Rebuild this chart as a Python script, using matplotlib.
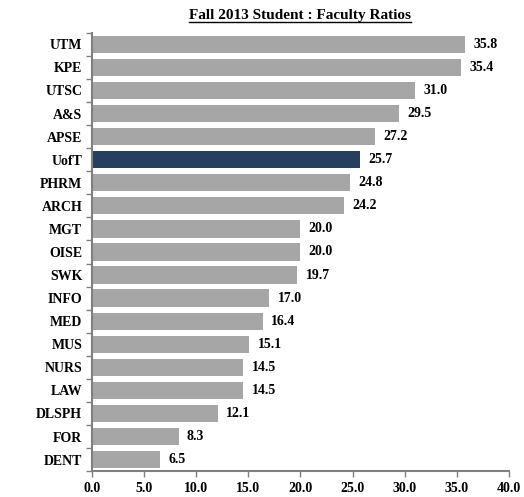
import matplotlib
matplotlib.use("Agg")
import matplotlib.pyplot as plt
import numpy as np

# faculties, top to bottom
faculties = ["UTM", "KPE", "UTSC", "A&S", "APSE", "UofT", "PHRM", "ARCH", "MGT", "OISE",
             "SWK", "INFO", "MED", "MUS", "NURS", "LAW", "DLSPH", "FOR", "DENT"]
ratios = [35.8, 35.4, 31.0, 29.5, 27.2, 25.7, 24.8, 24.2, 20.0, 20.0,
          19.7, 17.0, 16.4, 15.1, 14.5, 14.5, 12.1, 8.3, 6.5]
x_ticks = [0, 5, 10, 15, 20, 25, 30, 35, 40]

plt.rcParams['font.family'] = ['Liberation Serif', 'DejaVu Serif']

fig = plt.figure(figsize=(5.24, 4.97), dpi=100)
ax = fig.add_axes([0.1756, 0.052, 0.7955, 0.882])

y = np.arange(len(faculties))
colors = ['#243F60' if f == "UofT" else '#A6A6A6' for f in faculties]
ax.barh(y, ratios, height=0.75, color=colors)

for yi, v in zip(y, ratios):
    ax.text(v + 0.8, yi, '%.1f' % v, va='center', ha='left', fontsize=10, fontweight='bold')

ax.set_xlim(0, 40)
ax.set_ylim(len(faculties) - 0.5, -0.5)
ax.set_xticks(x_ticks)
ax.set_xticklabels(['%.1f' % t for t in x_ticks], fontsize=10, fontweight='bold')

ax.set_yticks(y)
ax.set_yticklabels(faculties, fontsize=10, fontweight='bold')
ax.tick_params(axis='y', length=0, pad=7)
ax.set_yticks(np.arange(-0.5, len(faculties), 1), minor=True)
ax.tick_params(axis='y', which='minor', length=4, color='#808080', width=1)
ax.tick_params(axis='x', length=4, color='#808080', width=1, pad=4)

for s in ['top', 'right']:
    ax.spines[s].set_visible(False)
for s in ['left', 'bottom']:
    ax.spines[s].set_color('#808080')
    ax.spines[s].set_linewidth(1.5)

title = fig.text(0.573, 0.968, 'Fall 2013 Student : Faculty Ratios', ha='center', va='center',
                 fontsize=11, fontweight='bold')
fig.canvas.draw()
bb = title.get_window_extent()
fig.add_artist(plt.Line2D([bb.x0 / fig.bbox.width, bb.x1 / fig.bbox.width],
                          [bb.y0 / fig.bbox.height, bb.y0 / fig.bbox.height],
                          color='black', linewidth=1.0))

fig.savefig('out.png', dpi=100)
